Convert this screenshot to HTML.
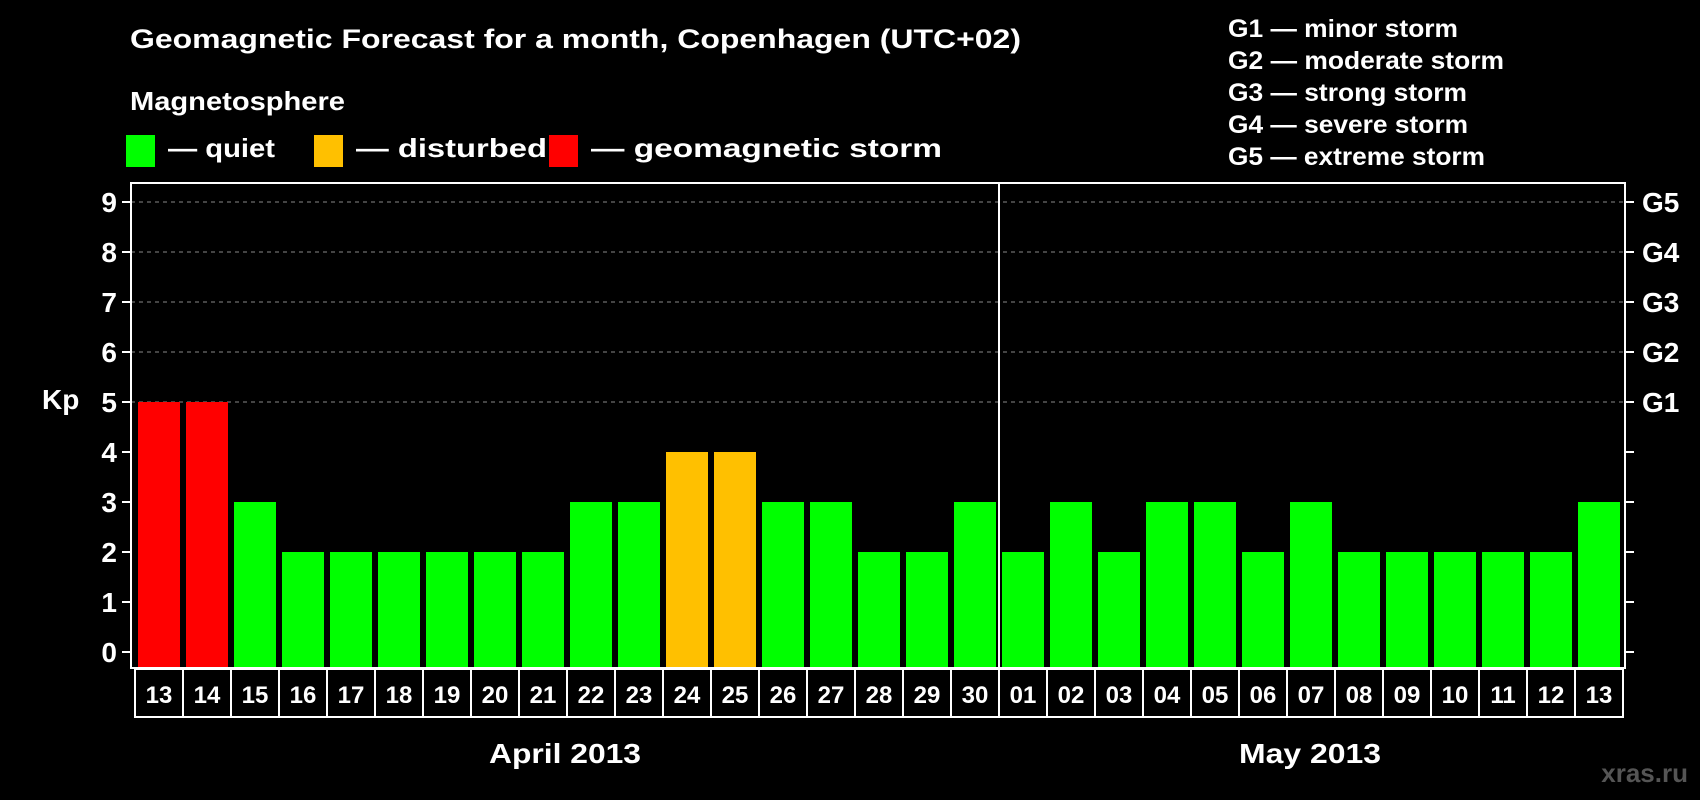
<!DOCTYPE html>
<html><head><meta charset="utf-8"><style>
html,body{margin:0;padding:0;background:#000;}
svg{display:block;font-family:"Liberation Sans",sans-serif;font-weight:bold;}
</style></head><body>
<svg id="chart" width="1700" height="800" viewBox="0 0 1700 800" xmlns="http://www.w3.org/2000/svg">
<rect width="1700" height="800" fill="#000"/>
<text x="130" y="48" fill="#fff" font-size="27" textLength="891" lengthAdjust="spacingAndGlyphs">Geomagnetic Forecast for a month, Copenhagen (UTC+02)</text>
<text x="130" y="110" fill="#fff" font-size="26" textLength="215" lengthAdjust="spacingAndGlyphs">Magnetosphere</text>
<g><rect x="126" y="135" width="29" height="32" fill="#00ff00"/><text x="168" y="157" fill="#fff" font-size="26" textLength="107" lengthAdjust="spacingAndGlyphs">— quiet</text></g>
<g><rect x="314" y="135" width="29" height="32" fill="#ffc000"/><text x="356" y="157" fill="#fff" font-size="26" textLength="191" lengthAdjust="spacingAndGlyphs">— disturbed</text></g>
<g><rect x="549" y="135" width="29" height="32" fill="#ff0000"/><text x="591" y="157" fill="#fff" font-size="26" textLength="351" lengthAdjust="spacingAndGlyphs">— geomagnetic storm</text></g>
<g fill="#fff" font-size="25" lengthAdjust="spacingAndGlyphs">
<text x="1228" y="37" textLength="230" lengthAdjust="spacingAndGlyphs">G1 — minor storm</text>
<text x="1228" y="69" textLength="276" lengthAdjust="spacingAndGlyphs">G2 — moderate storm</text>
<text x="1228" y="101" textLength="239" lengthAdjust="spacingAndGlyphs">G3 — strong storm</text>
<text x="1228" y="133" textLength="240" lengthAdjust="spacingAndGlyphs">G4 — severe storm</text>
<text x="1228" y="165" textLength="257" lengthAdjust="spacingAndGlyphs">G5 — extreme storm</text>
</g>
<text x="42" y="409" fill="#fff" font-size="28">Kp</text>
<g id="grid"></g><g id="bars"></g><g id="axes"></g><g id="dates"></g>
<text x="489" y="763" fill="#fff" font-size="28" textLength="152" lengthAdjust="spacingAndGlyphs">April 2013</text>
<text x="1239" y="763" fill="#fff" font-size="28" textLength="142" lengthAdjust="spacingAndGlyphs">May 2013</text>
<text x="1688" y="782" fill="#555" font-size="26" text-anchor="end">xras.ru</text>
</svg>
<script>
const days = ["13","14","15","16","17","18","19","20","21","22","23","24","25","26","27","28","29","30","01","02","03","04","05","06","07","08","09","10","11","12","13"];
const kpValues = [5,5,3,2,2,2,2,2,2,3,3,4,4,3,3,2,2,3,2,3,2,3,3,2,3,2,2,2,2,2,3];
const yTicks = [0,1,2,3,4,5,6,7,8,9];
const gLabels = ["","","","","","G1","G2","G3","G4","G5"];
const NS="http://www.w3.org/2000/svg";
const plotLeft=131,plotRight=1625,plotTop=183,plotBottom=668,slot0=135,slotW=48;
const yPos=v=>652-v*50;
const xPos=i=>slot0+i*slotW;
function mk(tag,attrs,parent){const e=document.createElementNS(NS,tag);for(const k in attrs)e.setAttribute(k,attrs[k]);document.getElementById(parent).appendChild(e);return e;}
yTicks.forEach((t,i)=>{
  if(t>=5){const g=mk('line',{x1:plotLeft,x2:plotRight,y1:yPos(t),y2:yPos(t),stroke:'#888','stroke-width':1,'stroke-dasharray':'4,4'},'grid');
  
  }
  const l=mk('text',{x:117,y:yPos(t)+10,fill:'#fff','font-size':28,'text-anchor':'end'},'axes');l.textContent=t;
  
  
  mk('line',{x1:122,x2:plotLeft,y1:yPos(t),y2:yPos(t),stroke:'#fff','stroke-width':2},'axes');
  mk('line',{x1:plotRight,x2:1634,y1:yPos(t),y2:yPos(t),stroke:'#fff','stroke-width':2},'axes');
  if(gLabels[i]){const r=mk('text',{x:1642,y:yPos(t)+10,fill:'#fff','font-size':28},'axes');r.textContent=gLabels[i];
  
  }
});
kpValues.forEach((v,i)=>{
  const c=v>=5?'#ff0000':(v>=4?'#ffc000':'#00ff00');
  const b=mk('rect',{x:xPos(i)+3,y:yPos(v),width:42,height:yPos(0)+16-yPos(v),fill:c},'bars');
  
  
  const cell=mk('rect',{x:xPos(i),y:669,width:slotW,height:48,fill:'none',stroke:'#fff','stroke-width':2},'dates');
  
  
  const t=mk('text',{x:xPos(i)+slotW/2,y:703,fill:'#fff','font-size':24,'text-anchor':'middle'},'dates');t.textContent=days[i];
  
  
});
const fr=mk('rect',{x:plotLeft,y:plotTop,width:plotRight-plotLeft,height:plotBottom-plotTop,fill:'none',stroke:'#fff','stroke-width':2},'axes');


const sep=mk('line',{x1:xPos(18),x2:xPos(18),y1:plotTop,y2:plotBottom,stroke:'#fff','stroke-width':2},'axes');


</script>
</body></html>
